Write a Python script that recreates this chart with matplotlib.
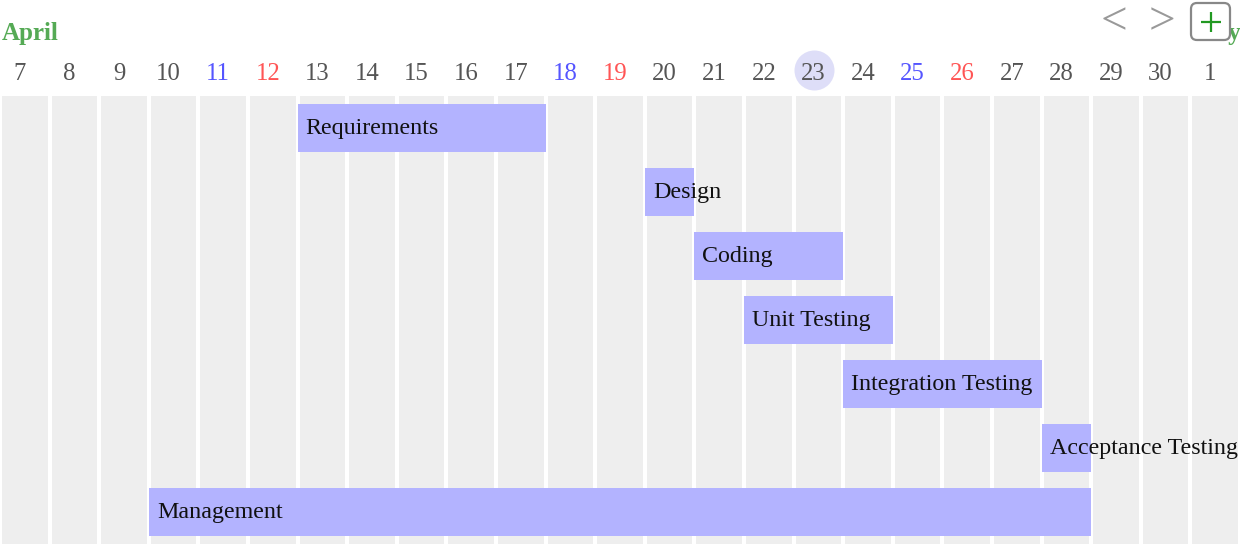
import matplotlib.pyplot as plt
from matplotlib.patches import FancyBboxPatch

# days shown across the top (April 7 .. May 1)
days = [7, 8, 9, 10, 11, 12, 13, 14, 15, 16, 17, 18, 19, 20, 21, 22, 23, 24,
        25, 26, 27, 28, 29, 30, 1]
saturdays = [11, 18, 25]
sundays = [12, 19, 26]
today = 23

tasks = ['Requirements', 'Design', 'Coding', 'Unit Testing',
         'Integration Testing', 'Acceptance Testing', 'Management']
start_day = [13, 20, 21, 22, 24, 28, 10]   # April, inclusive
end_day = [17, 20, 23, 24, 27, 28, 28]

plt.rcParams['font.family'] = ['Liberation Serif', 'DejaVu Serif']

fig = plt.figure(figsize=(12.4, 5.44), dpi=100)
ax = fig.add_axes([0, 0, 1, 1])
ax.set_xlim(0, len(days))
ax.set_ylim(len(tasks), -1.5)
ax.axis('off')

col_w = 1240 / len(days)
def px(x):
    return x / col_w
def py(y):
    return y / 64 - 1.5

# background day columns
idx = list(range(len(days)))
ax.bar([i + 0.5 for i in idx], [len(tasks)] * len(days), bottom=0,
       width=1 - 4 / col_w, color='#eeeeee', zorder=1)

# header day numbers (sit a little left of the column centre)
shift = px(5)
ti = days.index(today)
ax.scatter([ti + 0.5 - shift * 0.8], [py(70)], s=830, color='#dedef8',
           zorder=2, linewidths=0)
for i, d in enumerate(days):
    c = '#555555'
    if d in saturdays:
        c = '#5555ff'
    elif d in sundays:
        c = '#ff5555'
    ax.text(i + 0.5 - shift, py(80), str(d), ha='center', va='baseline',
            fontsize=17.8, color=c, zorder=3)

# task bars
first = days[0]
for row, (name, s, e) in enumerate(zip(tasks, start_day, end_day)):
    left = s - first
    ax.barh(row + 0.5, e - s + 1, left=left, height=0.75,
            color='#b3b3ff', zorder=2)
    ax.text(left + px(8), row + 0.5 + 6 / 64, name, ha='left', va='baseline',
            fontsize=17.3, color='#111111', zorder=3)

# month labels
ax.text(px(2), py(40), 'April', ha='left', va='baseline', fontsize=18,
        fontweight='bold', color='#55aa55', zorder=3)
ax.text(px(1241), py(40), 'May', ha='right', va='baseline', fontsize=18,
        fontweight='bold', color='#55aa55', zorder=3, clip_on=False)

# navigation buttons
ax.text(px(1114), py(34), '<', ha='center', va='baseline', fontsize=34,
        color='#999999', zorder=3)
ax.text(px(1162), py(34), '>', ha='center', va='baseline', fontsize=34,
        color='#999999', zorder=3)
box = FancyBboxPatch((px(1191), py(3)), px(1230) - px(1191), (40 - 3) / 64,
                     boxstyle='round,pad=0,rounding_size=0.12',
                     facecolor='white', edgecolor='#888888', linewidth=1.6,
                     zorder=4, mutation_aspect=col_w / 64)
ax.add_patch(box)
ax.plot([px(1201), px(1221)], [py(22), py(22)], color='#229922', lw=1.6,
        zorder=5, solid_capstyle='butt')
ax.plot([px(1211), px(1211)], [py(12), py(32)], color='#229922', lw=1.6,
        zorder=5, solid_capstyle='butt')

fig.savefig('out.png', dpi=100)
